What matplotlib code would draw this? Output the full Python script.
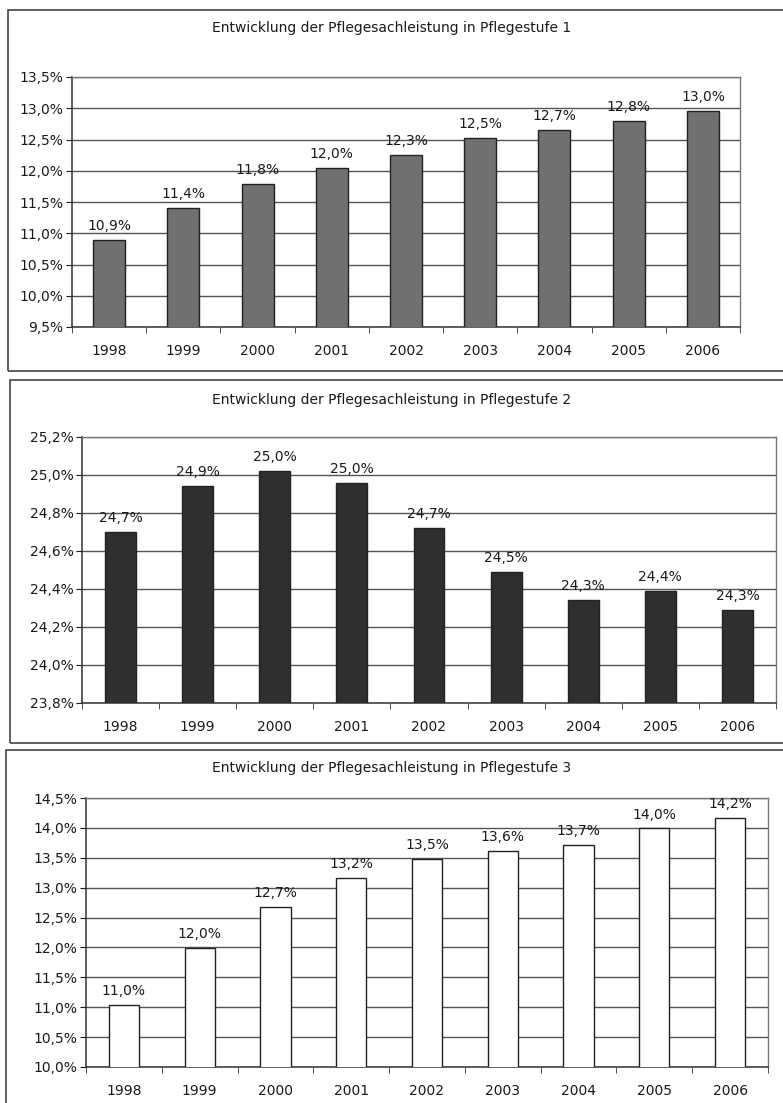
import matplotlib.pyplot as plt
from matplotlib.patches import Rectangle
from matplotlib.ticker import FixedLocator, FuncFormatter

# wide sans face: the scanned labels are broad and heavy
plt.rcParams["font.family"] = ["DejaVu Sans"]

# Data
YEARS = ["1998", "1999", "2000", "2001", "2002", "2003", "2004", "2005", "2006"]
STUFE1 = [10.89, 11.40, 11.79, 12.04, 12.26, 12.53, 12.66, 12.79, 12.96]
STUFE2 = [24.70, 24.94, 25.02, 24.96, 24.72, 24.49, 24.34, 24.39, 24.29]
STUFE3 = [11.03, 11.99, 12.67, 13.17, 13.48, 13.62, 13.72, 13.99, 14.16]
TICKS1 = [9.5, 10.0, 10.5, 11.0, 11.5, 12.0, 12.5, 13.0, 13.5]
TICKS2 = [23.8, 24.0, 24.2, 24.4, 24.6, 24.8, 25.0, 25.2]
TICKS3 = [10.0, 10.5, 11.0, 11.5, 12.0, 12.5, 13.0, 13.5, 14.0, 14.5]
TITLE = "Entwicklung der Pflegesachleistung in Pflegestufe {}"

W, H = 783, 1103
fig = plt.figure(figsize=(W / 100, H / 100), dpi=100)
fig.patch.set_facecolor("white")


def px_axes(x0, y0, x1, y1):
    # pixel box (top-left origin) -> figure fraction axes
    return fig.add_axes([x0 / W, 1 - y1 / H, (x1 - x0) / W, (y1 - y0) / H])


def frame(x0, y0, x1, y1):
    fig.patches.append(Rectangle((x0 / W, 1 - y1 / H), (x1 - x0) / W, (y1 - y0) / H,
                                 transform=fig.transFigure, fill=False,
                                 edgecolor="#444444", lw=1.2))


def pct(v, pos=None):
    return f"{v:.1f}%".replace(".", ",")


def draw_panel(ax, values, ticks, face, width, title, title_y):
    x = list(range(len(YEARS)))
    ax.bar(x, values, width=width, color=face, edgecolor="#222222", lw=1.0, zorder=3)
    ax.set_ylim(ticks[0], ticks[-1])
    ax.set_xlim(-0.5, len(YEARS) - 0.5)
    ax.yaxis.set_major_locator(FixedLocator(ticks))
    ax.yaxis.set_major_formatter(FuncFormatter(pct))
    ax.grid(axis="y", color="#555555", lw=1.0, zorder=1)
    ax.set_xticks(x)
    ax.set_xticklabels(YEARS)
    ax.set_xticks([i - 0.5 for i in range(len(YEARS) + 1)], minor=True)
    ax.tick_params(axis="x", which="major", length=0, pad=12, labelsize=10,
                   colors="#1a1a1a")
    ax.tick_params(axis="x", which="minor", length=4, direction="out", color="#333333")
    ax.tick_params(axis="y", length=4, direction="out", pad=2, labelsize=10,
                   colors="#1a1a1a")
    for s in ["left", "bottom"]:
        ax.spines[s].set_color("#333333")
        ax.spines[s].set_linewidth(1.1)
    for s in ["top", "right"]:
        ax.spines[s].set_color("#777777")
        ax.spines[s].set_linewidth(1.0)
    for xi, v in zip(x, values):
        ax.annotate(pct(v), (xi, v), xytext=(0, 5), textcoords="offset points",
                    ha="center", va="bottom", fontsize=10, color="#1a1a1a")
    fig.text(0.5, 1 - title_y / H, title, ha="center", va="center", fontsize=10,
             color="#1a1a1a")


frame(8, 10, 800, 371)
frame(10, 380, 800, 743)
frame(6, 750, 800, 1120)

ax1 = px_axes(72, 77, 740, 327)
draw_panel(ax1, STUFE1, TICKS1, "#707070", 0.43, TITLE.format(1), 28)

ax2 = px_axes(82, 437, 776, 703)
draw_panel(ax2, STUFE2, TICKS2, "#2f2f2f", 0.40, TITLE.format(2), 400)

ax3 = px_axes(86, 798, 768, 1067)
draw_panel(ax3, STUFE3, TICKS3, "white", 0.40, TITLE.format(3), 768)

fig.savefig("out.png", dpi=100)
